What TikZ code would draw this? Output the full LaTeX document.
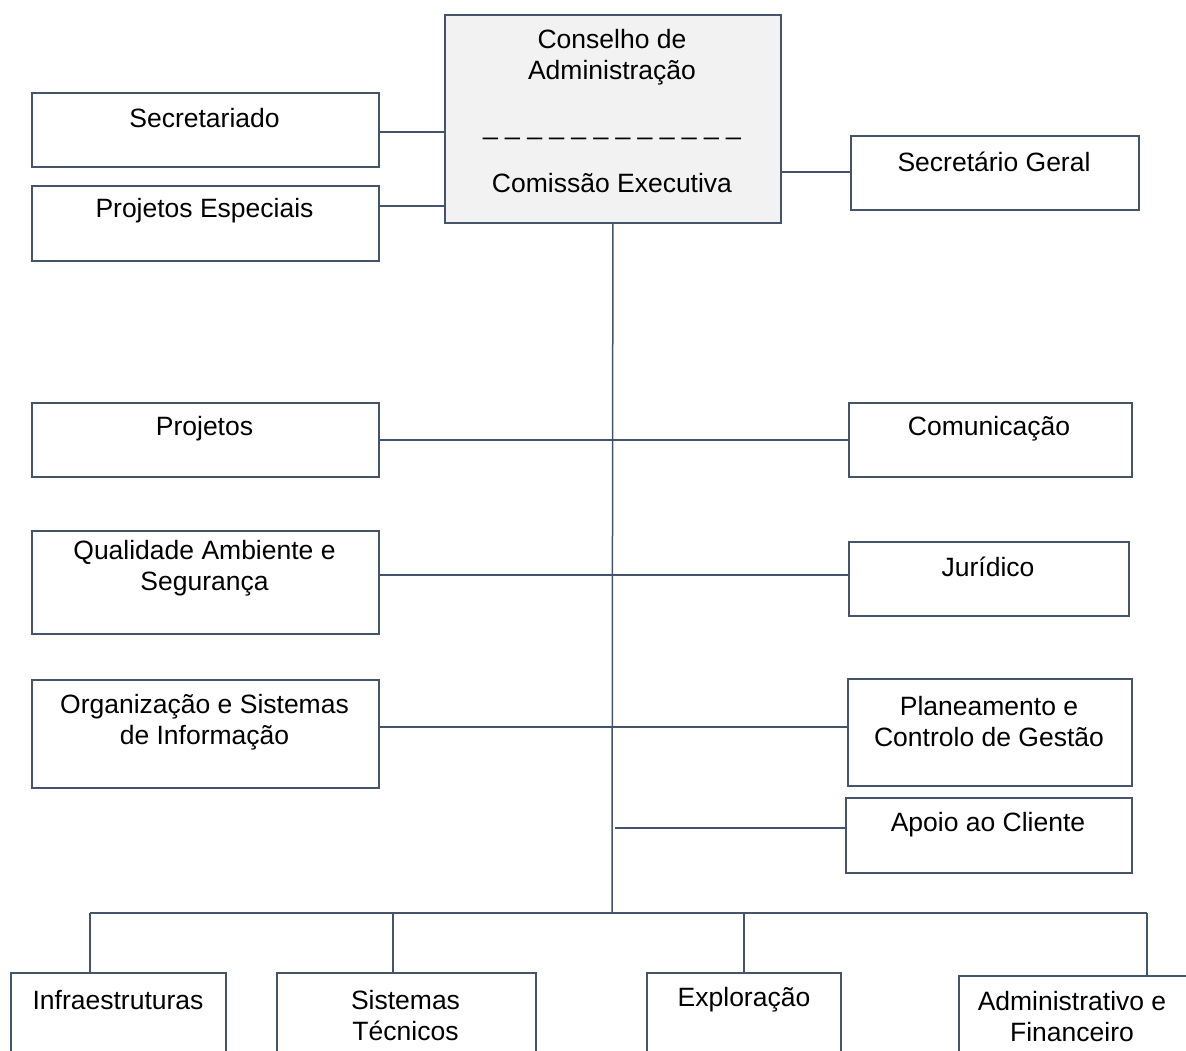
\documentclass[tikz,border=0pt]{standalone}
\usepackage{fontspec}
\setmainfont{Liberation Sans}
\usetikzlibrary{positioning}
\definecolor{linha}{HTML}{44546A}
\definecolor{fundo}{HTML}{F2F2F2}
\newcommand{\tr}{\symbol{95} }

\begin{document}
\begin{tikzpicture}[x=1pt,y=-1pt,
        caixa/.style={draw=linha, line width=1.8pt, anchor=north west, inner sep=0pt},
        rotulo/.style={font=\fontsize{26.5}{31}\selectfont, align=center, inner sep=0pt},
        liga/.style={draw=linha, line width=1.5pt}]
    \path[use as bounding box, clip] (0,0) rectangle (1186,1050);

    % conselho
    \node[caixa, fill=fundo, minimum width=336, minimum height=208] (cons) at (444,14) {};
    \node[rotulo] (cons-a) at (612,57.5) {Conselho de\\Administração};
    \node[rotulo] (cons-b) at (612,137) {\tr\tr\tr\tr\tr\tr\tr\tr\tr\tr\tr\symbol{95}};
    \node[rotulo] (cons-c) at (612,183) {Comissão Executiva};

    % caixas de apoio
    \node[caixa, minimum width=347, minimum height=74] (secr) at (31,92) {};
    \node[rotulo] (secr-t) at (204.5,118) {Secretariado};
    \node[caixa, minimum width=347, minimum height=75] (proesp) at (31,185) {};
    \node[rotulo] (proesp-t) at (204.5,211) {Projetos Especiais};
    \node[caixa, minimum width=288, minimum height=74] (secger) at (850,135) {};
    \node[rotulo] (secger-t) at (994,162) {Secretário Geral};

    % direcoes
    \node[caixa, minimum width=347, minimum height=74] (proj) at (31,402) {};
    \node[rotulo] (proj-t) at (204.5,429) {Projetos};
    \node[caixa, minimum width=283, minimum height=74] (comun) at (848,402) {};
    \node[rotulo] (comun-t) at (989,429) {Comunicação};
    \node[caixa, minimum width=347, minimum height=103] (qual) at (31,530) {};
    \node[rotulo] (qual-t) at (204.5,568.5) {Qualidade Ambiente e\\Segurança};
    \node[caixa, minimum width=280, minimum height=74] (jur) at (848,541) {};
    \node[rotulo] (jur-t) at (988,567) {Jurídico};
    \node[caixa, minimum width=347, minimum height=108] (org) at (31,679) {};
    \node[rotulo] (org-t) at (204.5,722.5) {Organização e Sistemas\\de Informação};
    \node[caixa, minimum width=284, minimum height=107] (plan) at (847,678) {};
    \node[rotulo] (plan-t) at (989,721.5) {Planeamento e\\Controlo de Gestão};
    \node[caixa, minimum width=286, minimum height=75] (apoio) at (845,797) {};
    \node[rotulo] (apoio-t) at (988,825) {Apoio ao Cliente};

    % areas operacionais
    \node[caixa, minimum width=215, minimum height=100] (infra) at (10,972) {};
    \node[rotulo] (infra-t) at (118,1000) {Infraestruturas};
    \node[caixa, minimum width=259, minimum height=100] (sist) at (276,972) {};
    \node[rotulo] (sist-t) at (405.5,1016) {Sistemas\\Técnicos};
    \node[caixa, minimum width=194, minimum height=100] (expl) at (646,972) {};
    \node[rotulo] (expl-t) at (744,1000) {Exploração};
    \node[caixa, minimum width=236, minimum height=100] (admin) at (958,975) {};
    \node[rotulo] (admin-t) at (1072,1017) {Administrativo e\\Financeiro};

    \coordinate (s1) at (444,132);
    \coordinate (s2) at (444,206);
    \coordinate (s3) at (780,172);
    \coordinate (n1) at (612,440);
    \coordinate (n2) at (612,575);
    \coordinate (n3) at (612,727);
    \coordinate (n4) at (615,828);
    \coordinate (bc) at (612,913);
    \coordinate (b1) at (90,913);
    \coordinate (b2) at (393,913);
    \coordinate (b3) at (744,913);
    \coordinate (b4) at (1147,913);

    \draw[liga] (secr.east |- s1) -- (s1);
    \draw[liga] (proesp.east |- s2) -- (s2);
    \draw[liga] (s3) -- (secger.west |- s3);

    \draw[liga] (cons.south) -- (bc);
    \draw[liga] (proj.east |- n1) -- (comun.west |- n1);
    \draw[liga] (qual.east |- n2) -- (jur.west |- n2);
    \draw[liga] (org.east |- n3) -- (plan.west |- n3);
    \draw[liga] (n4) -- (apoio.west |- n4);

    \draw[liga] (b1) -- (b4);
    \foreach \b/\n in {b1/infra, b2/sist, b3/expl, b4/admin}
        \draw[liga] (\b) -- (\b |- \n.north);
\end{tikzpicture}
\end{document}
